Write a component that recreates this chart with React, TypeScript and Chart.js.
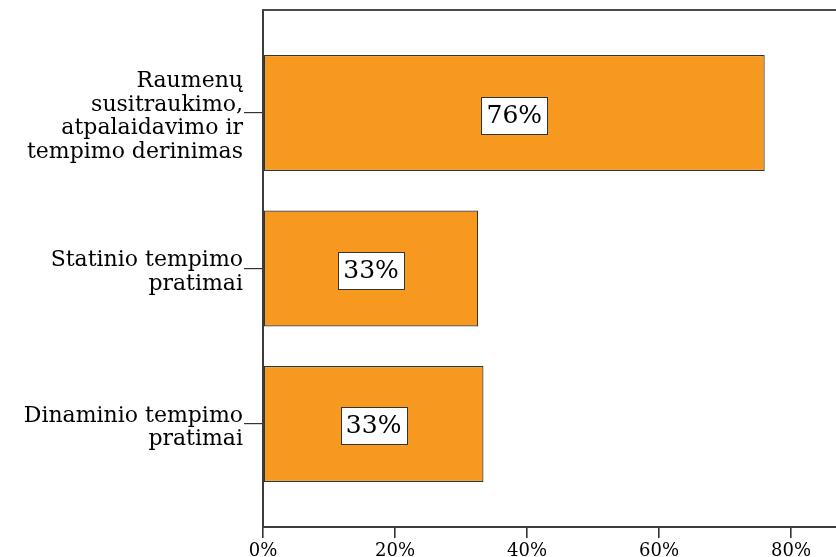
import React, { useEffect, useRef } from "react";
import { Chart, registerables } from "chart.js";

Chart.register(...registerables);

const categories: string[][] = [
  ["Raumenų", "susitraukimo,", "atpalaidavimo ir", "tempimo derinimas"],
  ["Statinio tempimo", "pratimai"],
  ["Dinaminio tempimo", "pratimai"],
];
const percentValues: number[] = [76.0, 32.6, 33.4];
const xTickStep = 20;
const xMin = 0;
const xMax = 86.8;

const W = 836;
const H = 565;

const valueBoxPlugin = {
  id: "valueBoxes",
  afterDatasetsDraw(chart: any) {
    const ctx = chart.ctx;
    const meta = chart.getDatasetMeta(0);
    ctx.save();
    ctx.font = "25px 'DejaVu Serif'";
    ctx.textAlign = "center";
    ctx.textBaseline = "middle";
    meta.data.forEach((bar: any, i: number) => {
      const v = percentValues[i];
      const text = Math.round(v) + "%";
      const cx = (bar.x + bar.base) / 2;
      const cy = bar.y + 2;
      const tw = ctx.measureText(text).width;
      const bw = Math.round(tw + 10);
      const bh = 37;
      const x0 = Math.round(cx - bw / 2) + 0.5;
      const y0 = Math.round(cy - bh / 2) + 0.5;
      ctx.fillStyle = "#ffffff";
      ctx.fillRect(x0, y0, bw, bh);
      ctx.strokeStyle = "#333333";
      ctx.lineWidth = 1;
      ctx.strokeRect(x0, y0, bw, bh);
      ctx.fillStyle = "#000000";
      ctx.fillText(text, cx, cy + 1);
    });
    ctx.restore();
  },
};

const topLinePlugin = {
  id: "topLine",
  afterDraw(chart: any) {
    const { ctx, chartArea } = chart;
    ctx.save();
    ctx.strokeStyle = "#4a4a4a";
    ctx.lineWidth = 2;
    ctx.beginPath();
    ctx.moveTo(chartArea.left, chartArea.top);
    ctx.lineTo(W, chartArea.top);
    ctx.stroke();
    ctx.restore();
  },
};

export default function App() {
  const ref = useRef<HTMLCanvasElement | null>(null);

  useEffect(() => {
    if (!ref.current) return;
    const chart = new Chart(ref.current, {
      type: "bar",
      data: {
        datasets: [
          {
            data: percentValues.map((v, i) => ({ x: v, y: i })),
            backgroundColor: "#F7981F",
            borderColor: "#333333",
            borderWidth: 1.2,
            borderSkipped: false,
            barPercentage: 0.746,
            categoryPercentage: 1,
          },
        ],
      },
      options: {
        indexAxis: "y",
        responsive: false,
        animation: false,
        layout: { padding: { top: 10, left: 0, right: 0, bottom: 0 } },
        plugins: {
          legend: { display: false },
          tooltip: { enabled: false },
          title: { display: false },
        },
        scales: {
          x: {
            type: "linear",
            min: xMin,
            max: xMax,
            offset: false,
            ticks: {
              stepSize: xTickStep,
              includeBounds: false,
              color: "#000",
              font: { family: "'DejaVu Serif'", size: 18 },
              padding: 3,
              maxRotation: 0,
              callback: (v: any) => v + "%",
            },
            grid: {
              offset: false,
              drawOnChartArea: false,
              drawTicks: true,
              tickLength: 11,
              color: "#333333",
              lineWidth: 1.6,
            },
            border: { display: true, color: "#3c3c3c", width: 2 },
            afterFit: (scale: any) => {
              scale.height = H - 527;
              scale.paddingLeft = 0;
              scale.paddingRight = 0;
            },
          },
          y: {
            type: "linear",
            reverse: true,
            offset: false,
            min: -0.6624,
            max: categories.length - 1 + 0.6624,
            afterBuildTicks: (scale: any) => {
              scale.ticks = categories.map((_, i) => ({ value: i }));
            },
            ticks: {
              color: "#000",
              font: { family: "'DejaVu Serif'", size: 22, lineHeight: "23.5px" },
              padding: 1,
              labelOffset: 4,
              callback: (v: any) => categories[Number(v)] ?? "",
            },
            grid: {
              offset: false,
              drawOnChartArea: false,
              drawTicks: true,
              tickLength: 19,
              color: "#333333",
              lineWidth: 1.2,
            },
            border: { display: true, color: "#3c3c3c", width: 2 },
            afterFit: (scale: any) => {
              scale.width = 263;
              scale.paddingTop = 0;
              scale.paddingBottom = 0;
            },
          },
        },
      },
      plugins: [valueBoxPlugin, topLinePlugin],
    } as any);
    return () => chart.destroy();
  }, []);

  return (
    <div style={{ position: "absolute", left: 0, top: 0, width: W, height: 557, overflow: "hidden", background: "#fff" }}>
      <canvas ref={ref} width={W} height={H} style={{ display: "block", width: W, height: H }} />
    </div>
  );
}
